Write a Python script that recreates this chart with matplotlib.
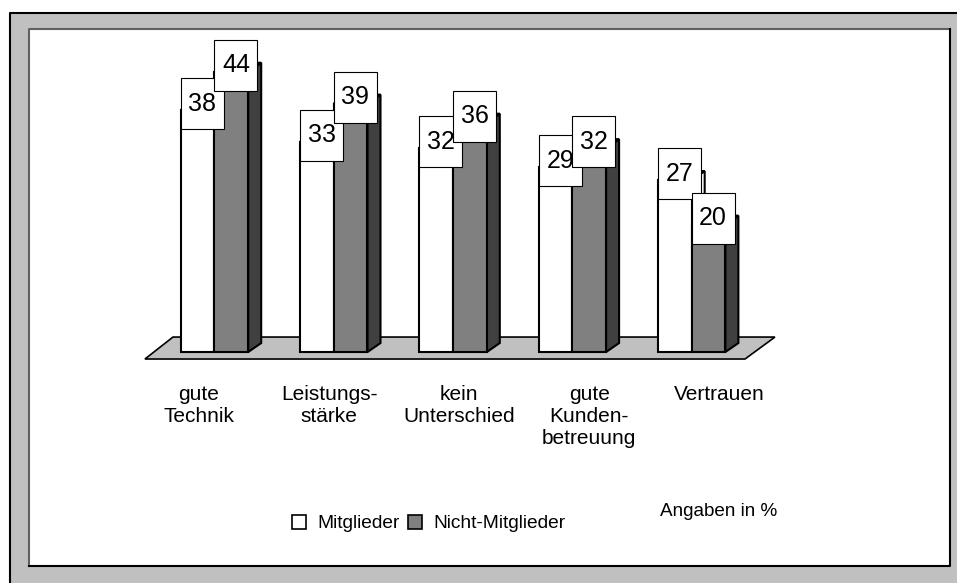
import matplotlib.pyplot as plt
from matplotlib.patches import Rectangle, Polygon, Patch

plt.rcParams['font.family'] = ['Liberation Sans', 'DejaVu Sans']

# data
categories = ['gute\nTechnik', 'Leistungs-\nstärke', 'kein\nUnterschied',
              'gute\nKunden-\nbetreuung', 'Vertrauen']
mitglieder = [38, 33, 32, 29, 27]
nicht_mitglieder = [44, 39, 36, 32, 20]
series_names = ['Mitglieder', 'Nicht-Mitglieder']

# figure, pixel sized
W, H = 957, 583
fig = plt.figure(figsize=(W / 100, H / 100), dpi=100)
fig.patch.set_facecolor('white')

# background frames (pixel coords)
bg = fig.add_axes([0, 0, 1, 1], zorder=0)
bg.set_xlim(0, W)
bg.set_ylim(H, 0)
bg.axis('off')
bg.add_patch(Rectangle((9, 12), W, H, facecolor='#c0c0c0', edgecolor='none'))
bg.plot([9.5, 9.5, W], [H, 12.5, 12.5], color='black', lw=1.5)
bg.add_patch(Rectangle((28, 28), 922, 538, facecolor='white', edgecolor='none'))
bg.plot([28.5, 28.5, 950], [566, 28.5, 28.5], color='#606060', lw=1.5)
bg.plot([28.5, 950, 950], [566, 566, 28.5], color='black', lw=1.5)

# chart axes: x in group units, y in percent
ax = fig.add_axes([0, 0, 1, 1], zorder=1)
ax.patch.set_alpha(0)
ax.set_xlim(-1.798, 6.224)
ax.set_ylim(-36.26, 55.26)
ax.axis('off')

w = 0.2825     # bar width
dx, dy = 0.109, 1.41   # 3d depth
lw = 1.5

# floor
ax.add_patch(Polygon([(-0.583, -1.1), (4.447, -1.1), (4.698, 2.35), (-0.348, 2.35)],
                     closed=True, facecolor='#c0c0c0', edgecolor='black', lw=1.2, zorder=1))


def bar3d(x0, h, front, top, side, z):
    ax.add_patch(Polygon([(x0 + w, 0), (x0 + w + dx, dy), (x0 + w + dx, h + dy), (x0 + w, h)],
                         closed=True, facecolor=side, edgecolor='black', lw=lw, zorder=z,
                         joinstyle='miter'))
    ax.add_patch(Polygon([(x0, h), (x0 + w, h), (x0 + w + dx, h + dy), (x0 + dx, h + dy)],
                         closed=True, facecolor=top, edgecolor='black', lw=lw, zorder=z,
                         joinstyle='miter'))
    ax.add_patch(Rectangle((x0, 0), w, h, facecolor=front, edgecolor='black', lw=lw,
                           zorder=z, joinstyle='miter'))


def value_box(x0, v, z):
    ax.add_patch(Rectangle((x0, v - 3), 0.36, 8, facecolor='white', edgecolor='black',
                           lw=0.8, zorder=z))
    ax.text(x0 + 0.18, v + 1, str(v), ha='center', va='center', fontsize=18, zorder=z + 0.5)


for i, (m, n) in enumerate(zip(mitglieder, nicht_mitglieder)):
    base = 2 + i * 2
    bar3d(i - w, m, 'white', 'white', 'white', base)
    bar3d(i, n, '#808080', '#999999', '#404040', base + 1)
    value_box(i - w, m, 20)
    value_box(i, n, 22)

# category labels
for i, cat in enumerate(categories):
    ax.text(-0.13 + 1.09 * i, -5.1, cat, ha='center', va='top', fontsize=15,
            linespacing=1.2, multialignment='center')

# legend
handles = [Patch(facecolor='white', edgecolor='black', lw=1.2),
           Patch(facecolor='#808080', edgecolor='black', lw=1.2)]
fig.legend(handles, series_names, loc='center left', bbox_to_anchor=(0.305, 0.102),
           ncol=2, frameon=False, fontsize=13.8, handlelength=0.75, handleheight=0.75,
           handletextpad=0.6, columnspacing=0.4, borderpad=0, borderaxespad=0)

fig.text(660 / W, 1 - 511 / H, 'Angaben in %', ha='left', va='center', fontsize=13.6)

fig.savefig('out.png', dpi=100)
